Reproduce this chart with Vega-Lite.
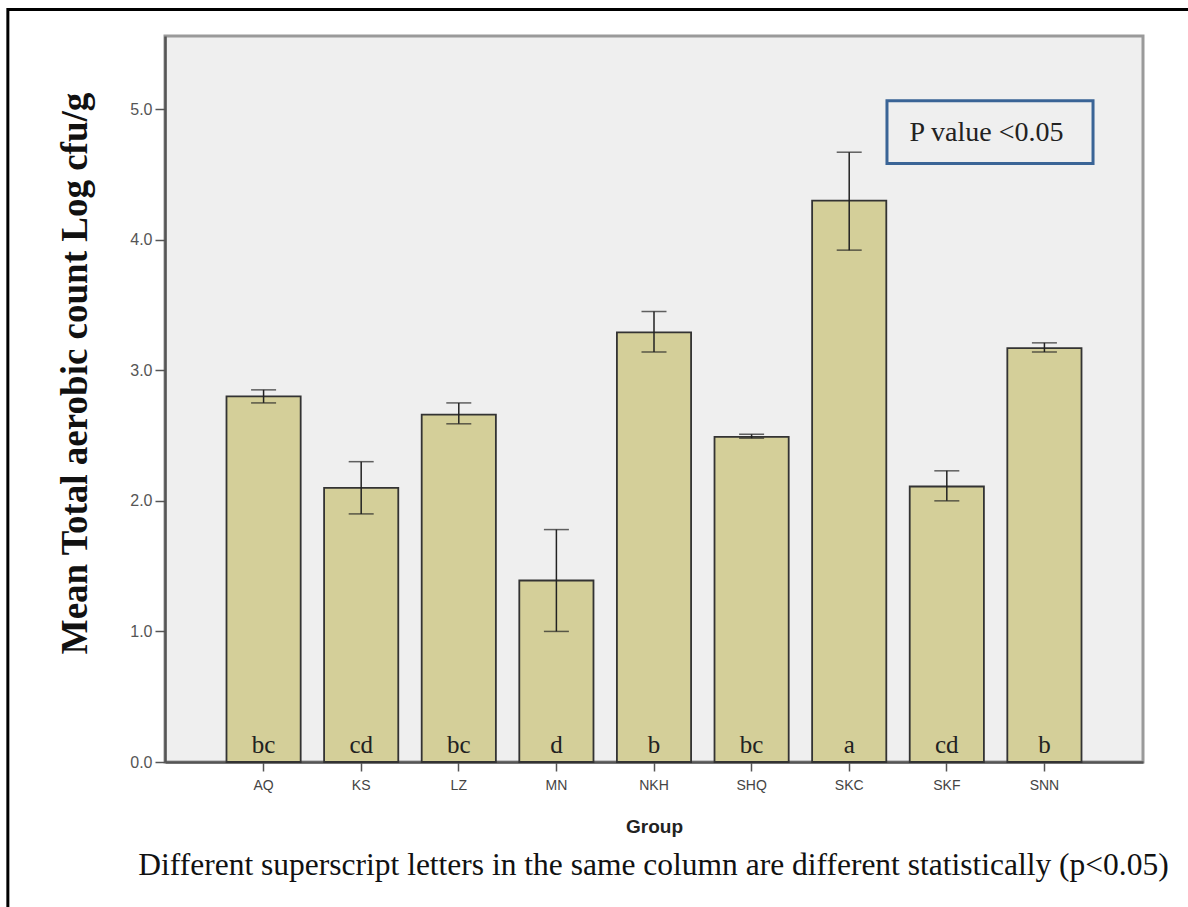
{
  "$schema": "https://vega.github.io/schema/vega-lite/v6.json",
  "width": 978,
  "height": 726,
  "autosize": "none",
  "padding": {"left": 165, "top": 36, "right": 45, "bottom": 145},
  "background": "white",
  "config": {
    "view": {"stroke": "#9a9a9a", "strokeWidth": 3, "fill": "#efefef"}
  },
  "data": {
    "values": [
      {"group": "AQ", "mean": 2.80, "lo": 2.75, "hi": 2.85, "letter": "bc"},
      {"group": "KS", "mean": 2.10, "lo": 1.90, "hi": 2.30, "letter": "cd"},
      {"group": "LZ", "mean": 2.66, "lo": 2.59, "hi": 2.75, "letter": "bc"},
      {"group": "MN", "mean": 1.39, "lo": 1.00, "hi": 1.78, "letter": "d"},
      {"group": "NKH", "mean": 3.29, "lo": 3.14, "hi": 3.45, "letter": "b"},
      {"group": "SHQ", "mean": 2.49, "lo": 2.48, "hi": 2.51, "letter": "bc"},
      {"group": "SKC", "mean": 4.30, "lo": 3.92, "hi": 4.67, "letter": "a"},
      {"group": "SKF", "mean": 2.11, "lo": 2.00, "hi": 2.23, "letter": "cd"},
      {"group": "SNN", "mean": 3.17, "lo": 3.14, "hi": 3.21, "letter": "b"}
    ]
  },
  "resolve": {"scale": {"x": "independent"}},
  "layer": [
    {
      "encoding": {
        "x": {
          "field": "group",
          "type": "nominal",
          "sort": null,
          "scale": {"type": "band", "paddingInner": 0.24, "paddingOuter": 0.63},
          "axis": {
            "title": "Group",
            "titleFont": "Liberation Sans",
            "titleFontSize": 19,
            "titleFontWeight": "bold",
            "titleColor": "#222222",
            "titlePadding": 25,
            "labelFont": "Liberation Sans",
            "labelFontSize": 14,
            "labelColor": "#444444",
            "labelAngle": 0,
            "labelPadding": 7,
            "tickSize": 9,
            "tickColor": "#555555",
            "tickWidth": 1.5,
            "domainColor": "#555555",
            "domainWidth": 2.5
          }
        }
      },
      "layer": [
        {
          "mark": {"type": "bar", "fill": "#d4cf99", "stroke": "#333333", "strokeWidth": 1.8},
          "encoding": {
            "y": {
              "field": "mean",
              "type": "quantitative",
              "scale": {"domain": [0, 5.56], "nice": false},
              "axis": {
                "title": "Mean Total aerobic count Log cfu/g",
                "titleFont": "Liberation Serif",
                "titleFontSize": 37,
                "titleFontWeight": "bold",
                "titleColor": "#111111",
                "titleAngle": 270,
                "titleBaseline": "middle",
                "titleAlign": "center",
                "titleX": -90,
                "titleY": 337,
                "values": [0, 1, 2, 3, 4, 5],
                "format": ".1f",
                "grid": false,
                "labelFont": "Liberation Sans",
                "labelFontSize": 16,
                "labelColor": "#555555",
                "labelPadding": 3,
                "tickSize": 10,
                "tickColor": "#555555",
                "tickWidth": 1.5,
                "domainColor": "#555555",
                "domainWidth": 2.5
              }
            }
          }
        },
        {
          "mark": {"type": "rule", "color": "#222222", "strokeWidth": 1.5},
          "encoding": {
            "y": {"field": "lo", "type": "quantitative", "scale": {"domain": [0, 5.56], "nice": false}},
            "y2": {"field": "hi"}
          }
        },
        {
          "mark": {"type": "tick", "color": "#222222", "thickness": 1.5, "size": 25},
          "encoding": {
            "y": {"field": "lo", "type": "quantitative", "scale": {"domain": [0, 5.56], "nice": false}}
          }
        },
        {
          "mark": {"type": "tick", "color": "#222222", "thickness": 1.5, "size": 25},
          "encoding": {
            "y": {"field": "hi", "type": "quantitative", "scale": {"domain": [0, 5.56], "nice": false}}
          }
        },
        {
          "mark": {"type": "text", "font": "Liberation Serif", "fontSize": 25, "color": "#222222", "baseline": "alphabetic", "dy": -9},
          "encoding": {
            "y": {"datum": 0, "type": "quantitative", "scale": {"domain": [0, 5.56], "nice": false}},
            "text": {"field": "letter"}
          }
        }
      ]
    },
    {
      "data": {"values": [{}]},
      "layer": [
        {
          "mark": {"type": "rect", "fill": null, "fillOpacity": 0, "stroke": "#3a6496", "strokeWidth": 3},
          "encoding": {
            "x": {"datum": 6.387, "type": "quantitative", "scale": {"domain": [-1.01, 9.01], "nice": false, "zero": false}, "axis": null},
            "x2": {"datum": 8.498},
            "y": {"datum": 5.065, "type": "quantitative", "scale": {"domain": [0, 5.56], "nice": false}},
            "y2": {"datum": 4.583}
          }
        },
        {
          "mark": {"type": "text", "text": "P value <0.05", "font": "Liberation Serif", "fontSize": 28, "color": "#222222", "align": "center", "baseline": "alphabetic"},
          "encoding": {
            "x": {"datum": 7.407, "type": "quantitative", "scale": {"domain": [-1.01, 9.01], "nice": false, "zero": false}, "axis": null},
            "y": {"datum": 4.759, "type": "quantitative", "scale": {"domain": [0, 5.56], "nice": false}}
          }
        },
        {
          "mark": {"type": "text", "text": "Different  superscript letters in the same column are  different statistically (p<0.05)", "font": "Liberation Serif", "fontSize": 31.5, "color": "#111111", "align": "center", "baseline": "alphabetic"},
          "encoding": {
            "x": {"datum": 3.995, "type": "quantitative", "scale": {"domain": [-1.01, 9.01], "nice": false, "zero": false}, "axis": null},
            "y": {"datum": -0.869, "type": "quantitative", "scale": {"domain": [0, 5.56], "nice": false}}
          }
        },
        {
          "mark": {"type": "rect", "fill": null, "fillOpacity": 0, "stroke": "#000000", "strokeWidth": 3},
          "encoding": {
            "x": {"datum": -2.62, "type": "quantitative", "scale": {"domain": [-1.01, 9.01], "nice": false, "zero": false}, "axis": null},
            "x2": {"datum": 10.5},
            "y": {"datum": 5.762, "type": "quantitative", "scale": {"domain": [0, 5.56], "nice": false}},
            "y2": {"datum": -1.3}
          }
        }
      ]
    }
  ]
}
